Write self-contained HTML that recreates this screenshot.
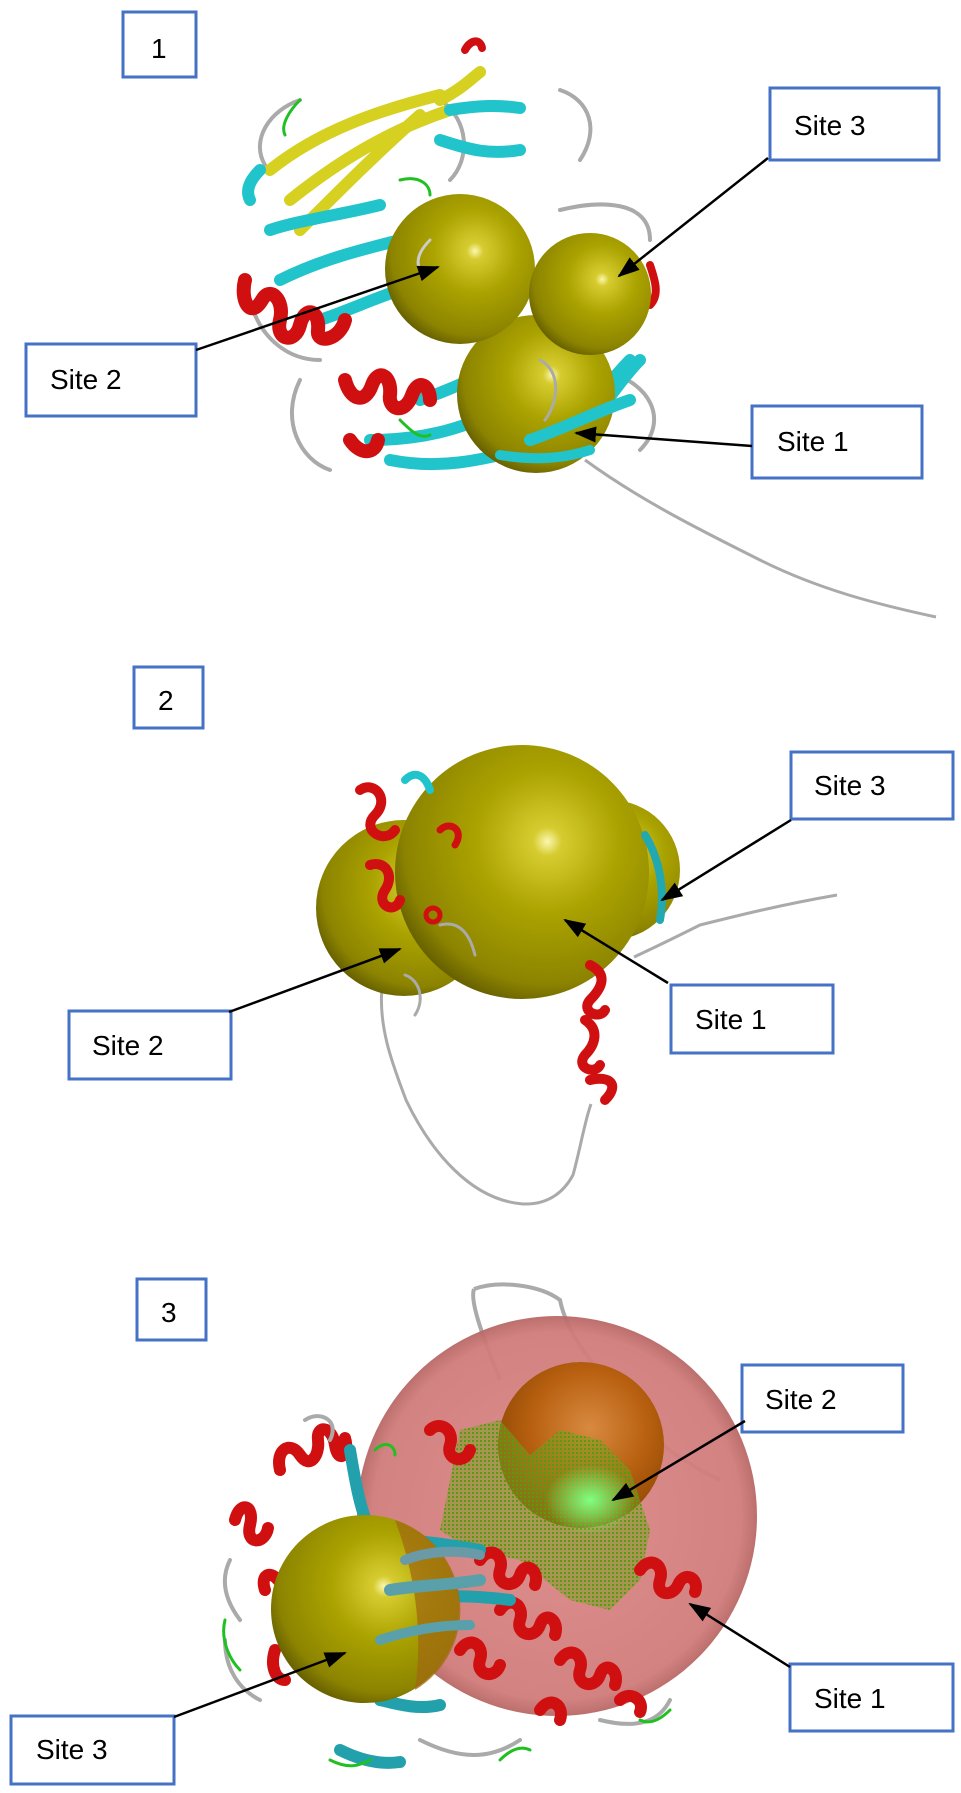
<!DOCTYPE html>
<html><head><meta charset="utf-8"><style>
html,body{margin:0;padding:0;background:#fff;}
svg{display:block;}
text{font-family:"Liberation Sans",sans-serif;font-size:28px;fill:#000;}
</style></head><body>
<svg width="961" height="1793" viewBox="0 0 961 1793" xmlns="http://www.w3.org/2000/svg">
<defs>
<radialGradient id="gold" cx="0.6" cy="0.38" r="0.7" fx="0.6" fy="0.38">
<stop offset="0" stop-color="#fbf7b0"/><stop offset="0.08" stop-color="#d6cc30"/><stop offset="0.4" stop-color="#aba300"/><stop offset="0.8" stop-color="#8c8400"/><stop offset="1" stop-color="#554f00"/></radialGradient>
<radialGradient id="orange" cx="0.55" cy="0.4" r="0.7">
<stop offset="0" stop-color="#d88a40"/><stop offset="0.5" stop-color="#b86010"/><stop offset="1" stop-color="#804000"/></radialGradient>
<radialGradient id="pink" cx="0.5" cy="0.5" r="0.5">
<stop offset="0" stop-color="#dc8a88"/><stop offset="0.92" stop-color="#d07c7a"/><stop offset="1" stop-color="#b86866"/></radialGradient>
<radialGradient id="glow" cx="0.5" cy="0.5" r="0.5">
<stop offset="0" stop-color="#80ff80"/><stop offset="1" stop-color="#80ff80" stop-opacity="0"/></radialGradient>
<pattern id="dots" width="4" height="4" patternUnits="userSpaceOnUse"><rect width="4" height="4" fill="#7aa020" opacity="0.5"/><rect width="2" height="2" fill="#5a9a10"/></pattern>
<marker id="ah" markerWidth="22" markerHeight="16" refX="20" refY="8" orient="auto" markerUnits="userSpaceOnUse"><path d="M0,0 L22,8 L0,16 z" fill="#000"/></marker>
</defs>

<!-- Panel 1 protein -->
<path d="M585,460 C640,500 700,530 760,560 C820,590 880,605 936,617" stroke="#aaa" stroke-width="3" fill="none"/>
<g fill="none" stroke-linecap="round">
<g stroke="#aaa" stroke-width="4">
<path d="M265,165 C250,140 270,110 300,100 M560,90 C590,100 600,130 580,160 M560,210 C600,200 650,200 650,240 M300,380 C280,420 300,460 330,470 M600,370 C650,380 670,420 640,450 M440,100 C470,120 470,160 450,180 M250,300 C260,340 290,360 320,360"/>
</g>
<g stroke="#d6d020" stroke-width="12">
<path d="M270,170 C320,130 380,110 440,95"/>
<path d="M290,200 C340,160 390,130 450,110"/>
<path d="M300,230 C340,190 380,150 420,115"/>
<path d="M440,100 C460,90 470,80 480,72"/>
</g>
<g stroke="#22c4cc" stroke-width="12">
<path d="M260,170 C250,180 245,190 250,200"/>
<path d="M450,110 C480,105 500,105 520,108"/>
<path d="M440,140 C470,150 490,155 520,150"/>
<path d="M270,230 C300,220 340,215 380,205"/>
<path d="M280,280 C320,260 360,250 400,240"/>
<path d="M320,320 C350,310 370,300 400,290"/>
<path d="M370,440 C420,440 460,430 500,410"/>
<path d="M390,460 C440,470 480,460 520,450"/>
<path d="M560,430 C590,410 610,380 630,360"/>
<path d="M590,420 C610,400 620,380 640,360"/>
<path d="M420,400 C450,390 470,380 490,370"/>
</g>
<g stroke="#d01010" stroke-width="14">
<path d="M245,280 C240,300 250,320 262,300 C270,285 285,300 280,320 C275,340 295,345 300,325 C305,305 320,310 318,330 C316,345 340,340 345,320"/>
<path d="M345,380 C350,400 365,405 372,385 C378,368 392,375 390,395 C388,410 405,415 412,395 C418,378 430,385 430,400"/>
<path d="M350,440 C360,455 375,455 378,440"/>
<path d="M465,50 C470,40 480,38 482,48" stroke-width="8"/>
<path d="M650,265 C655,280 660,295 650,305" stroke-width="8"/>
</g>
<g stroke="#20c020" stroke-width="3">
<path d="M300,100 C290,110 280,125 285,135 M400,180 C420,175 430,185 430,195 M610,300 C620,310 630,315 640,310 M400,420 C410,430 420,440 430,435"/>
</g>
</g>
<circle cx="536" cy="394" r="79" fill="url(#gold)"/>
<circle cx="460" cy="269" r="75" fill="url(#gold)"/>
<circle cx="590" cy="294" r="61" fill="url(#gold)"/>
<g fill="none" stroke-linecap="round">
<path d="M530,440 C560,430 600,410 630,400" stroke="#22c4cc" stroke-width="12"/>
<path d="M540,360 C560,370 560,400 545,420" stroke="#aaa" stroke-width="3"/>
<path d="M500,455 C530,460 560,460 590,450" stroke="#22c4cc" stroke-width="10"/>
<path d="M430,240 C420,250 415,260 420,270" stroke="#ccc" stroke-width="3"/>
</g>

<!-- Panel 2 protein -->
<path d="M382,987 C378,1030 395,1070 406,1100 C430,1150 470,1200 523,1204 C550,1205 565,1190 573,1175 C580,1150 585,1120 591,1104" stroke="#aaa" stroke-width="3" fill="none"/>
<path d="M634,957 C660,945 680,935 700,925 C740,915 780,905 837,895" stroke="#aaa" stroke-width="3" fill="none"/>
<circle cx="404" cy="908" r="88" fill="url(#gold)"/>
<circle cx="610" cy="870" r="70" fill="url(#gold)"/>
<circle cx="522" cy="872" r="127" fill="url(#gold)"/>
<g fill="none" stroke-linecap="round">
<path d="M645,835 C660,860 665,890 660,920" stroke="#22a8b0" stroke-width="8"/>
<path d="M360,790 C375,780 390,800 375,815 C360,830 385,845 395,830 M370,865 C385,860 395,875 385,890 C375,905 395,915 400,900" stroke="#d01010" stroke-width="10"/>
<path d="M405,780 C415,770 425,775 430,790" stroke="#22c4cc" stroke-width="8"/>
<path d="M440,830 C450,820 465,830 455,845" stroke="#d01010" stroke-width="7"/>
<circle cx="433" cy="915" r="7" stroke="#d01010" stroke-width="5"/>
<path d="M440,925 C460,920 470,935 475,955 M405,975 C420,980 425,1000 415,1015" stroke="#aaa" stroke-width="3"/>
<path d="M590,965 C610,975 600,990 590,1000 C580,1012 600,1020 605,1010 M585,1020 C600,1030 595,1045 585,1055 C575,1068 595,1075 600,1065 M590,1080 C610,1075 620,1085 605,1100" stroke="#d01010" stroke-width="10"/>
</g>

<!-- Panel 3 protein -->
<path d="M474,1289 C470,1300 480,1330 500,1380 M474,1289 C500,1280 540,1285 560,1300 C570,1350 620,1390 640,1420 C660,1450 700,1470 720,1480" stroke="#aaa" stroke-width="4" fill="none"/>
<circle cx="557" cy="1516" r="200" fill="url(#pink)" opacity="0.95"/>
<circle cx="581" cy="1445" r="83" fill="url(#orange)"/>
<path d="M460,1430 L500,1420 L530,1455 L560,1430 L600,1440 L630,1470 L650,1530 L640,1580 L610,1610 L570,1600 L520,1560 L470,1550 L440,1530 L450,1480 Z" fill="url(#dots)"/>
<ellipse cx="590" cy="1500" rx="45" ry="35" fill="url(#glow)"/>
<g fill="none" stroke-linecap="round">
<g stroke="#d01010" stroke-width="12">
<path d="M280,1470 C275,1450 290,1440 300,1455 C310,1470 320,1455 318,1440 C316,1425 332,1425 335,1445 C338,1465 350,1455 345,1438"/>
<path d="M235,1520 C240,1500 255,1505 250,1525 C245,1545 265,1545 268,1528"/>
<path d="M265,1590 C260,1575 270,1570 278,1580"/>
<path d="M430,1430 C440,1420 455,1430 450,1445 C445,1460 465,1465 470,1450"/>
<path d="M480,1560 C490,1545 505,1555 500,1570 C495,1585 515,1590 520,1575 C525,1560 540,1570 535,1585"/>
<path d="M500,1610 C510,1595 525,1605 520,1620 C515,1635 535,1640 540,1625 C545,1610 560,1620 555,1635"/>
<path d="M560,1660 C570,1645 585,1655 580,1670 C575,1685 595,1690 600,1675 C605,1660 620,1670 615,1685"/>
<path d="M460,1650 C470,1635 485,1645 480,1660 C475,1675 495,1680 500,1665"/>
<path d="M640,1570 C650,1555 665,1565 660,1580 C655,1595 672,1598 678,1585 C684,1570 700,1578 695,1592"/>
<path d="M540,1710 C550,1695 565,1705 560,1720 M620,1700 C630,1690 645,1700 640,1712"/>
<path d="M275,1650 C270,1665 275,1680 285,1680"/>
</g>
<g stroke="#22a0ac" stroke-width="12">
<path d="M350,1450 C355,1480 360,1510 370,1530"/>
<path d="M410,1600 C440,1595 470,1595 510,1600"/>
<path d="M390,1540 C420,1540 450,1545 480,1550"/>
<path d="M380,1700 C400,1705 420,1710 440,1705"/>
<path d="M340,1750 C360,1760 380,1765 400,1762"/>
</g>
<g stroke="#aaa" stroke-width="4">
<path d="M305,1420 C320,1410 340,1420 330,1440 M230,1560 C220,1580 225,1600 240,1620 M225,1640 C225,1670 240,1690 260,1700 M420,1740 C460,1760 490,1760 520,1740 M600,1720 C640,1730 660,1720 670,1700"/>
</g>
<g stroke="#20c020" stroke-width="3">
<path d="M225,1620 C220,1640 230,1660 240,1670 M330,1760 C350,1770 360,1765 370,1760 M500,1760 C510,1750 520,1745 530,1750 M670,1710 C660,1720 650,1725 640,1720 M375,1450 C385,1440 395,1445 395,1455"/>
</g>
</g>
<circle cx="365" cy="1609" r="94" fill="url(#gold)"/>
<path d="M395,1520 C410,1560 425,1620 415,1690 A94,94 0 0 0 395,1520 Z" fill="#a06a10" opacity="0.75"/>
<g fill="none" stroke-linecap="round">
<path d="M390,1590 C420,1585 450,1585 480,1580" stroke="#5aa0aa" stroke-width="12"/>
<path d="M380,1640 C410,1630 440,1625 470,1625" stroke="#5aa0aa" stroke-width="10"/>
<path d="M405,1560 C430,1550 460,1550 480,1555" stroke="#6a9aa8" stroke-width="10"/>
</g>

<!-- Boxes -->
<g fill="#fff" stroke="#4472c4" stroke-width="3">
<rect x="123" y="12" width="73" height="65"/>
<rect x="770" y="88" width="169" height="72"/>
<rect x="26" y="344" width="170" height="72"/>
<rect x="752" y="406" width="170" height="72"/>
<rect x="134" y="667" width="69" height="61"/>
<rect x="791" y="752" width="162" height="67"/>
<rect x="69" y="1011" width="162" height="68"/>
<rect x="671" y="985" width="162" height="68"/>
<rect x="137" y="1279" width="69" height="61"/>
<rect x="742" y="1365" width="161" height="67"/>
<rect x="790" y="1664" width="163" height="67"/>
<rect x="11" y="1716" width="163" height="68"/>
</g>
<text x="151" y="58">1</text>
<text x="794" y="135">Site 3</text>
<text x="50" y="389">Site 2</text>
<text x="777" y="451">Site 1</text>
<text x="158" y="710">2</text>
<text x="814" y="795">Site 3</text>
<text x="92" y="1055">Site 2</text>
<text x="695" y="1029">Site 1</text>
<text x="161" y="1322">3</text>
<text x="765" y="1409">Site 2</text>
<text x="814" y="1708">Site 1</text>
<text x="36" y="1759">Site 3</text>

<!-- Arrows -->
<g stroke="#000" stroke-width="2.5" marker-end="url(#ah)">
<line x1="768" y1="158" x2="619" y2="276"/>
<line x1="196" y1="350" x2="438" y2="267"/>
<line x1="752" y1="446" x2="576" y2="433"/>
<line x1="791" y1="820" x2="662" y2="900"/>
<line x1="229" y1="1012" x2="400" y2="949"/>
<line x1="668" y1="983" x2="565" y2="920"/>
<line x1="745" y1="1421" x2="613" y2="1500"/>
<line x1="790" y1="1667" x2="690" y2="1604"/>
<line x1="174" y1="1717" x2="345" y2="1653"/>
</g>
</svg>
</body></html>
